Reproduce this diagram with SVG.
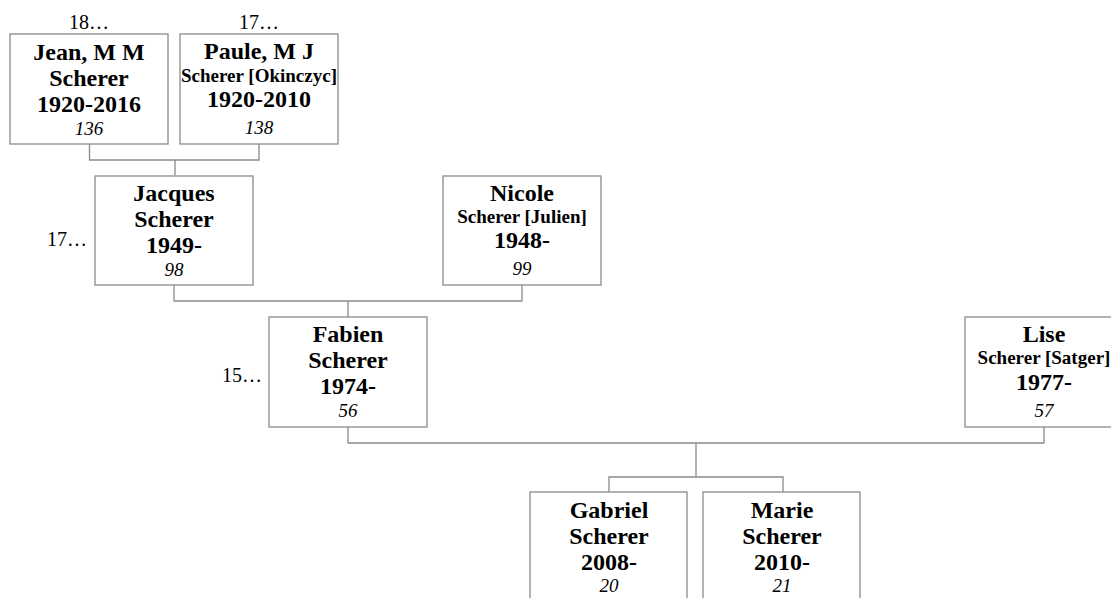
<svg xmlns="http://www.w3.org/2000/svg" width="1111" height="598" viewBox="0 0 1111 598">
<style>
.box{fill:#fff;stroke:#8a8a8a;stroke-width:1.3}
.ln{fill:none;stroke:#8a8a8a;stroke-width:1.3}
text{font-family:"Liberation Serif","Times New Roman",serif;fill:#000;text-anchor:middle}
.nm{font-size:24px;font-weight:bold}
.sm{font-size:19px;font-weight:bold}
.no{font-size:19px;font-style:italic}
.lb{font-size:20px}
.lr{font-size:20px;text-anchor:end}
</style>
<rect width="1111" height="598" fill="#fff"/>
<g id="connectors">
<path class="ln" d="M89.5 144V160H259V144M175 160V175"/>
<path class="ln" d="M174 285V301H522V285M348 301V317"/>
<path class="ln" d="M348 427V443H1044V427M696 443V477"/>
<path class="ln" d="M609 492V477H783V492"/>
</g>
<g id="n136">
<text class="lb" x="89" y="29">18…</text>
<rect class="box" x="10" y="34" width="158" height="110"/>
<text class="nm" x="89" y="60">Jean, M M</text>
<text class="nm" x="89" y="86">Scherer</text>
<text class="nm" x="89" y="112">1920-2016</text>
<text class="no" x="89" y="135">136</text>
</g>
<g id="n138">
<text class="lb" x="259" y="29">17…</text>
<rect class="box" x="180" y="34" width="158" height="110"/>
<text class="nm" x="259" y="59">Paule, M J</text>
<text class="sm" x="259" y="82" font-size="18.5">Scherer [Okinczyc]</text>
<text class="nm" x="259" y="107">1920-2010</text>
<text class="no" x="259" y="134">138</text>
</g>
<g id="n98">
<text class="lr" x="87" y="246">17…</text>
<rect class="box" x="95" y="176" width="158" height="109"/>
<text class="nm" x="174" y="201">Jacques</text>
<text class="nm" x="174" y="227">Scherer</text>
<text class="nm" x="174" y="253">1949-</text>
<text class="no" x="174" y="276">98</text>
</g>
<g id="n99">
<rect class="box" x="443" y="176" width="158" height="109"/>
<text class="nm" x="522" y="201">Nicole</text>
<text class="sm" x="522" y="223">Scherer [Julien]</text>
<text class="nm" x="522" y="248">1948-</text>
<text class="no" x="522" y="275">99</text>
</g>
<g id="n56">
<text class="lr" x="262" y="382">15…</text>
<rect class="box" x="269" y="317" width="158" height="110"/>
<text class="nm" x="348" y="342">Fabien</text>
<text class="nm" x="348" y="368">Scherer</text>
<text class="nm" x="348" y="394">1974-</text>
<text class="no" x="348" y="417">56</text>
</g>
<g id="n57">
<rect class="box" x="965" y="317" width="158" height="110"/>
<text class="nm" x="1044" y="342">Lise</text>
<text class="sm" x="1044" y="364">Scherer [Satger]</text>
<text class="nm" x="1044" y="390">1977-</text>
<text class="no" x="1044" y="417">57</text>
</g>
<g id="n20">
<rect class="box" x="530" y="492" width="157" height="110"/>
<text class="nm" x="609" y="518">Gabriel</text>
<text class="nm" x="609" y="544">Scherer</text>
<text class="nm" x="609" y="570">2008-</text>
<text class="no" x="609" y="592">20</text>
</g>
<g id="n21">
<rect class="box" x="703" y="492" width="157" height="110"/>
<text class="nm" x="782" y="518">Marie</text>
<text class="nm" x="782" y="544">Scherer</text>
<text class="nm" x="782" y="570">2010-</text>
<text class="no" x="782" y="592">21</text>
</g>
</svg>
